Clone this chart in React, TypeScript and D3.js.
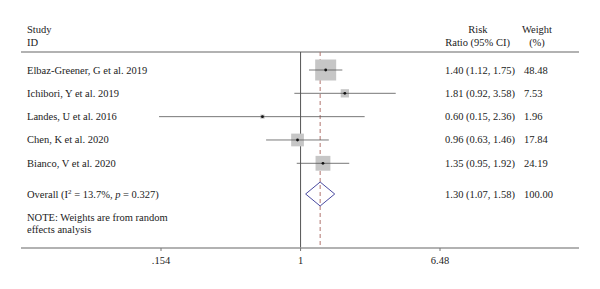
import React from 'react';
import * as d3 from 'd3';

const studies = [
  'Elbaz-Greener, G et al. 2019',
  'Ichibori, Y et al. 2019',
  'Landes, U et al. 2016',
  'Chen, K et al. 2020',
  'Bianco, V et al. 2020',
];
const rr = [1.4, 1.81, 0.6, 0.96, 1.35];
const lower = [1.12, 0.92, 0.15, 0.63, 0.95];
const upper = [1.75, 3.58, 2.36, 1.46, 1.92];
const ciLabels = ['1.40 (1.12, 1.75)', '1.81 (0.92, 3.58)', '0.60 (0.15, 2.36)', '0.96 (0.63, 1.46)', '1.35 (0.95, 1.92)'];
const weights = ['48.48', '7.53', '1.96', '17.84', '24.19'];
const weightVals = [48.48, 7.53, 1.96, 17.84, 24.19];

const overall = { rr: 1.3, lo: 1.07, hi: 1.58, label: '1.30 (1.07, 1.58)', weight: '100.00' };
const ticks = [0.154, 1, 6.48];
const tickLabels = ['.154', '1', '6.48'];

const W = 600;
const H = 289;

const App: React.FC = () => {
  const x = d3.scaleLog([0.154, 6.48], [161, 440]);
  const y = d3.scaleLinear([0, 4], [70, 163.3]);
  const size = d3.scaleSqrt([0, 48.48], [0, 21]);
  const yOverall = 194;
  const top = 52;
  const axisY = 248;
  const font = '"Liberation Serif", "Times New Roman", serif';
  const fs = 10.5;
  const txt = '#222';

  return (
    <svg width={W} height={H} style={{ position: 'absolute', left: 0, top: 0 }} fontFamily={font} fontSize={fs}>
      {/* header */}
      <text x={27} y={33} fill={txt}>Study</text>
      <text x={27} y={46} fill={txt}>ID</text>
      <text x={478} y={33} fill={txt} textAnchor="middle">Risk</text>
      <text x={510} y={46} fill={txt} textAnchor="end">Ratio (95% CI)</text>
      <text x={537} y={33} fill={txt} textAnchor="middle">Weight</text>
      <text x={537} y={46} fill={txt} textAnchor="middle">(%)</text>
      <line x1={21} x2={579} y1={top} y2={top} stroke="#999" strokeWidth={1.5} />

      {/* null line */}
      <line x1={x(1)} x2={x(1)} y1={top} y2={axisY} stroke="#555" strokeWidth={1} />
      {/* overall dashed */}
      <line x1={x(overall.rr)} x2={x(overall.rr)} y1={top} y2={axisY} stroke="#b0736e" strokeWidth={1} strokeDasharray="4,3" />

      {studies.map((s, i) => {
        const b = size(weightVals[i]);
        const cy = y(i);
        return (
          <g key={s}>
            <text x={27} y={cy + 3.5} fill={txt}>{s}</text>
            <rect x={x(rr[i]) - b / 2} y={cy - b / 2} width={b} height={b} fill="#c6c6c6" />
            <line x1={x(lower[i])} x2={x(upper[i])} y1={cy} y2={cy} stroke="#555" strokeWidth={0.8} />
            <circle cx={x(rr[i])} cy={cy} r={1.4} fill="#111" />
            <text x={445} y={cy + 3.5} fill={txt}>{ciLabels[i]}</text>
            <text x={524} y={cy + 3.5} fill={txt}>{weights[i]}</text>
          </g>
        );
      })}

      {/* overall */}
      <text x={27} y={yOverall + 3.5} fill={txt}>
        Overall (I<tspan dy={-4} fontSize={7}>2</tspan><tspan dy={4}> = 13.7%, </tspan>
        <tspan fontStyle="italic">p</tspan> = 0.327)
      </text>
      <path
        d={`M${x(overall.lo)},${yOverall} L${x(overall.rr)},${yOverall - 12} L${x(overall.hi)},${yOverall} L${x(overall.rr)},${yOverall + 12} Z`}
        fill="none"
        stroke="#4a4aa0"
        strokeWidth={1}
      />
      <text x={445} y={yOverall + 3.5} fill={txt}>{overall.label}</text>
      <text x={524} y={yOverall + 3.5} fill={txt}>{overall.weight}</text>

      <text x={27} y={221} fill={txt}>NOTE: Weights are from random</text>
      <text x={27} y={233} fill={txt}>effects analysis</text>

      {/* axis */}
      <line x1={21} x2={579} y1={axisY} y2={axisY} stroke="#999" strokeWidth={1.5} />
      {ticks.map((t, i) => (
        <g key={t}>
          <line x1={x(t)} x2={x(t)} y1={axisY} y2={axisY + 3} stroke="#777" strokeWidth={1} />
          <text x={x(t)} y={264} fill={txt} textAnchor="middle">{tickLabels[i]}</text>
        </g>
      ))}
    </svg>
  );
};

export default App;
